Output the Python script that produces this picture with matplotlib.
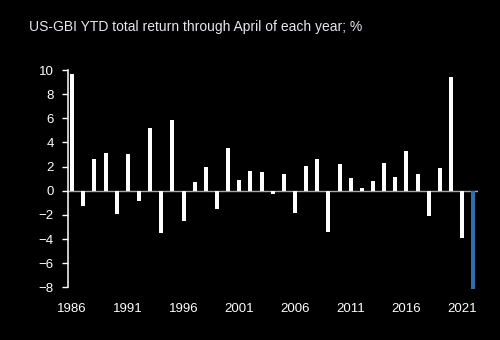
import matplotlib as mpl
mpl.use('Agg')
import matplotlib.pyplot as plt

#
#--- data: US-GBI YTD total return through April, %
#
years   = list(range(1986, 2023))
returns = [9.67, -1.30, 2.66, 3.16, -1.94, 3.02, -0.89, 5.21, -3.46, 5.87,
           -2.47, 0.75, 1.97, -1.52, 3.57, 0.89, 1.66, 1.55, -0.25, 1.36,
           -1.83, 2.02, 2.66, -3.41, 2.24, 1.02, 0.19, 0.80, 2.27, 1.14,
           3.27, 1.41, -2.08, 1.86, 9.45, -3.91, -8.10]
xticks  = [1986, 1991, 1996, 2001, 2006, 2011, 2016, 2021]
yticks  = [-8, -6, -4, -2, 0, 2, 4, 6, 8, 10]

title = 'US-GBI YTD total return through April of each year; %'

plt.rcParams['font.family'] = ['Liberation Sans', 'DejaVu Sans']

fig = plt.figure(figsize=(5.0, 3.4), dpi=100, facecolor='black')
ax  = fig.add_axes([0.1355, 0.155, 0.8205, 0.639], facecolor='black')

colors = ['white'] * (len(years) - 1) + ['#2f6fad']
bars = ax.bar(years, returns, width=0.36, color=colors, zorder=3)
bars[-1].set_clip_on(False)

ax.axhline(0, color='#a8a8a8', lw=1.0, zorder=2)

ax.set_xlim(1985.61, 2022.42)
ax.set_ylim(-8, 10)
ax.set_xticks(xticks)
ax.set_yticks(yticks)

for s in ['top', 'right', 'bottom']:
    ax.spines[s].set_visible(False)
ax.spines['left'].set_color('white')
ax.spines['left'].set_linewidth(1.1)

ax.tick_params(axis='y', colors='white', labelsize=9.5, length=4, width=1.0, pad=6)
ax.tick_params(axis='x', colors='white', labelsize=9.5, length=0, pad=11)

fig.text(0.058, 0.922, title, color='#e6e6ee', fontsize=10, va='center', ha='left')

plt.savefig('out.png', dpi=100, facecolor='black')
plt.close('all')
